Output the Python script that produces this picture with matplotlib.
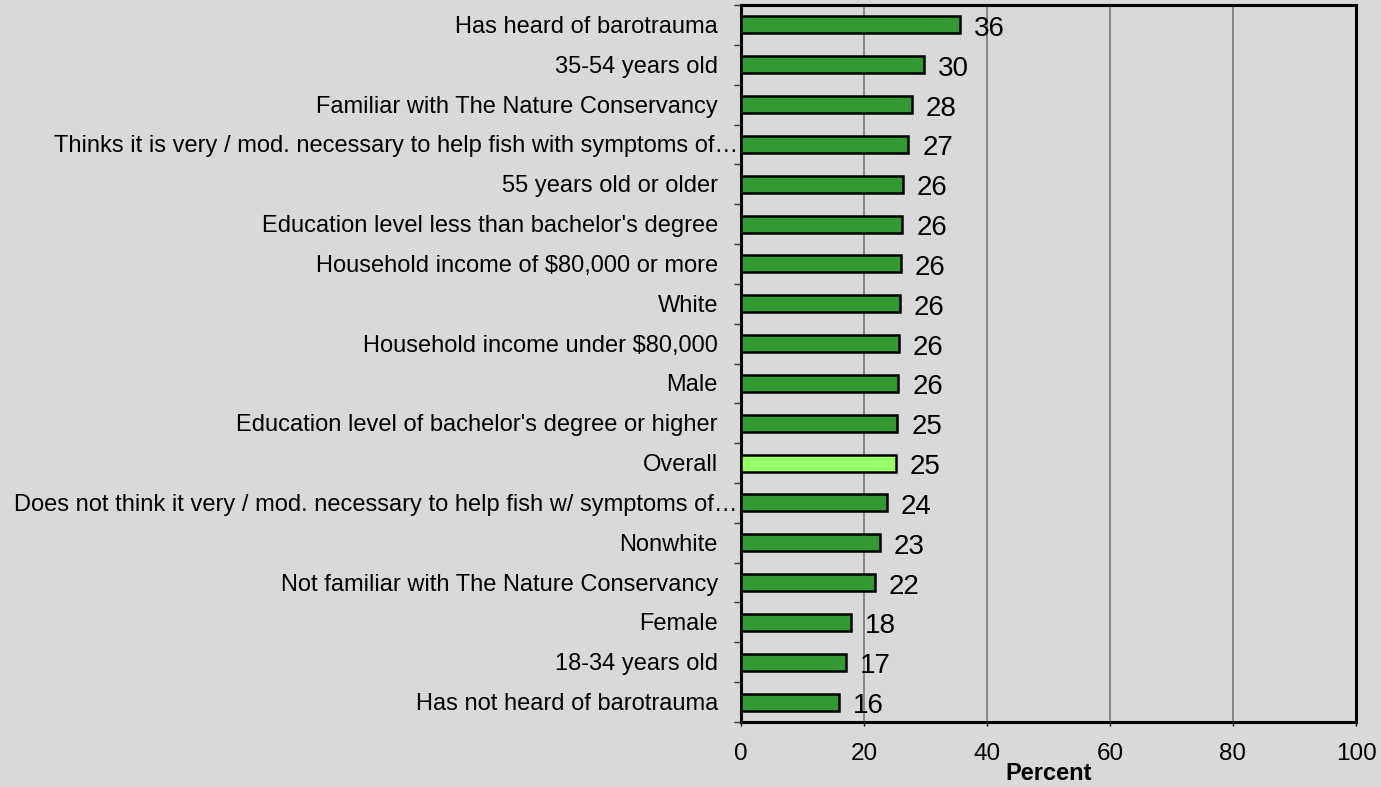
import matplotlib
matplotlib.use("Agg")
import matplotlib.pyplot as plt
import numpy as np
from matplotlib.transforms import offset_copy

plt.rcParams['font.family'] = ['Liberation Sans', 'DejaVu Sans']

categories = [
    "Has heard of barotrauma",
    "35-54 years old",
    "Familiar with The Nature Conservancy",
    "Thinks it is very / mod. necessary to help fish with symptoms of\u2026",
    "55 years old or older",
    "Education level less than bachelor's degree",
    "Household income of $80,000 or more",
    "White",
    "Household income under $80,000",
    "Male",
    "Education level of bachelor's degree or higher",
    "Overall",
    "Does not think it very / mod. necessary to help fish w/ symptoms of\u2026",
    "Nonwhite",
    "Not familiar with The Nature Conservancy",
    "Female",
    "18-34 years old",
    "Has not heard of barotrauma",
]
values = [35.6, 29.8, 27.8, 27.2, 26.3, 26.2, 26.0, 25.8, 25.7, 25.6, 25.4, 25.2,
          23.7, 22.6, 21.8, 17.9, 17.0, 15.9]
value_labels = ["36", "30", "28", "27", "26", "26", "26", "26", "26", "26", "25", "25",
                "24", "23", "22", "18", "17", "16"]
xticks = [0, 20, 40, 60, 80, 100]

bg = "#d9d9d9"
fig = plt.figure(figsize=(13.81, 7.87), dpi=100, facecolor=bg)
ax = fig.add_axes([741/1381, 1 - 722/787, (1356-741)/1381, (722-5)/787])
ax.set_facecolor(bg)

n = len(categories)
y = np.arange(n)
colors = ["#99ff66" if c == "Overall" else "#339933" for c in categories]
ax.barh(y, values, height=0.43, color=colors, edgecolor="black", linewidth=1.8, zorder=3)

ax.set_xlim(0, 100)
ax.set_ylim(n - 0.5, -0.5)
ax.set_xticks(xticks)
ax.set_xticklabels([str(t) for t in xticks], fontsize=17.5)
ax.tick_params(axis='x', length=3, width=1, pad=12)
ax.set_yticks(np.arange(-0.5, n, 1.0))
ax.set_yticklabels([])
ax.tick_params(axis='y', length=5, width=1, direction='out', color='#333333')
ax.xaxis.grid(True, color="#808080", linewidth=1.3, zorder=0)
ax.set_axisbelow(True)
for s in ax.spines.values():
    s.set_linewidth(2.2)
    s.set_color("black")

ax.set_xlabel("Percent", fontsize=17, fontweight='bold', labelpad=-2)

for i, (c, v, lab) in enumerate(zip(categories, values, value_labels)):
    long = len(c) > 60
    tr = offset_copy(ax.get_yaxis_transform(), fig=fig, x=(-3 if long else -23), y=-2, units='dots')
    ax.text(0, i, c, transform=tr, ha='right', va='center', fontsize=17, clip_on=False)
    ax.text(v, i, lab, transform=offset_copy(ax.transData, fig=fig, x=14, y=-4, units='dots'),
            ha='left', va='center', fontsize=20, zorder=4)

fig.savefig("out.png", dpi=100, facecolor=bg)
